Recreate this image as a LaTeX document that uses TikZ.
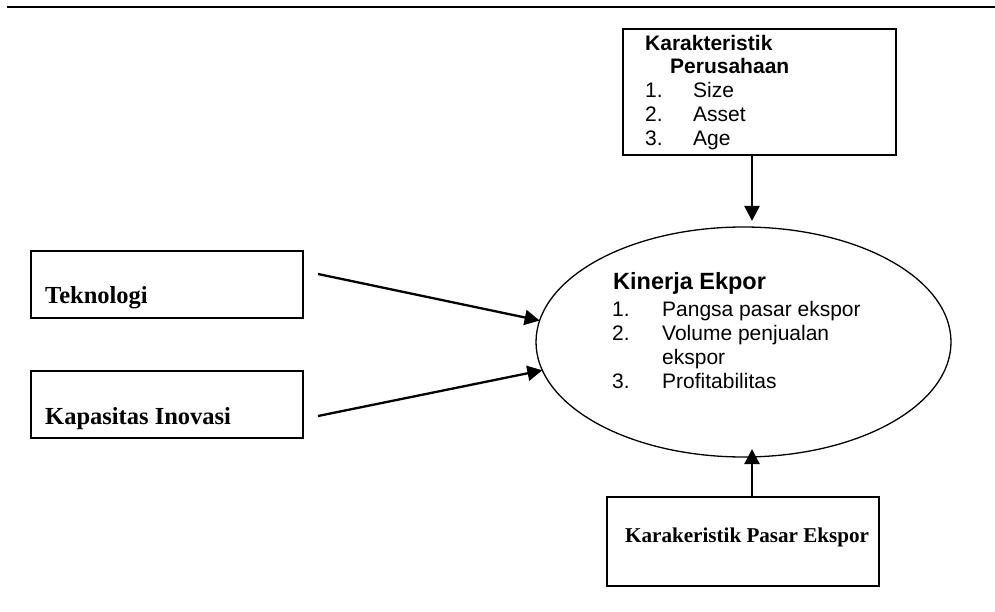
\documentclass[tikz,border=0pt]{standalone}
\usepackage{fontspec}
\setmainfont{Liberation Serif}
\newfontfamily\arialfont{Liberation Sans}
\usetikzlibrary{arrows.meta,shapes.geometric}

\tikzset{
    kotak/.style={draw, line width=1.4pt, inner sep=0pt, outer sep=0pt},
    panah/.style={line width=2.3pt, -{Triangle[length=15pt,width=15pt]}},
    teksA/.style={font=\arialfont\fontsize{21}{23.7}\selectfont, inner sep=0pt, anchor=base west},
    teksT/.style={font=\bfseries\fontsize{24.5}{28}\selectfont, inner sep=0pt, anchor=base west}
}

\begin{document}
\begin{tikzpicture}[x=1pt, y=-1pt]
    \useasboundingbox (0,0) rectangle (995,612);
    \draw[line width=2pt] (7,7) -- (995,7);

    % kotak dan elips
    \node[kotak, minimum width=273pt, minimum height=126pt] (firm) at (759.5,92) {};
    \node[kotak, minimum width=272pt, minimum height=67pt] (tek) at (167,284.5) {};
    \node[kotak, minimum width=272pt, minimum height=67pt] (ino) at (167,404.5) {};
    \node[kotak, minimum width=272pt, minimum height=89pt] (pasar) at (743,541.5) {};
    \node[draw, ellipse, line width=1.3pt, inner sep=0pt, outer sep=0pt,
          minimum width=415pt, minimum height=230pt] (kinerja) at (743.5,342) {};

    % teks
    \node[teksA, font=\arialfont\bfseries\fontsize{21}{23.7}\selectfont] (firmA) at (645,51) {Karakteristik};
    \node[teksA, font=\arialfont\bfseries\fontsize{21}{23.7}\selectfont] (firmB) at (670,74) {Perusahaan};
    \foreach \n/\t [count=\i] in {1./Size, 2./Asset, 3./Age} {
        \node[teksA] (fn\i) at (645, 74+23.7*\i) {\n};
        \node[teksA] (ft\i) at (693, 74+23.7*\i) {\t};
    }
    \node[teksA, font=\arialfont\bfseries\fontsize{23.5}{27}\selectfont] (kjudul) at (613,289) {Kinerja Ekpor};
    \foreach \n/\t/\y [count=\i] in {1./Pangsa pasar ekspor/316, 2./Volume penjualan/340, /ekspor/364, 3./Profitabilitas/388} {
        \node[teksA] (kn\i) at (612,\y) {\n};
        \node[teksA] (kt\i) at (662,\y) {\t};
    }
    \node[teksT] (tekT) at (45,303) {Teknologi};
    \node[teksT] (inoT) at (45,424) {Kapasitas Inovasi};
    \node[teksT, font=\bfseries\fontsize{21.1}{25}\selectfont] (pasarT) at (625,542) {Karakeristik Pasar Ekspor};

    % panah
    \coordinate (tekout) at (318,274);
    \coordinate (inoout) at (318,416);
    \coordinate (topin) at (752,221);
    \coordinate (botin) at (752,449);
    \draw[panah] (tekout) -- (kinerja.174);
    \draw[panah] (inoout) -- (kinerja.188);
    \draw[panah] (firm.south -| topin) -- (topin);
    \draw[panah] (pasar.north -| botin) -- (botin);
\end{tikzpicture}
\end{document}
